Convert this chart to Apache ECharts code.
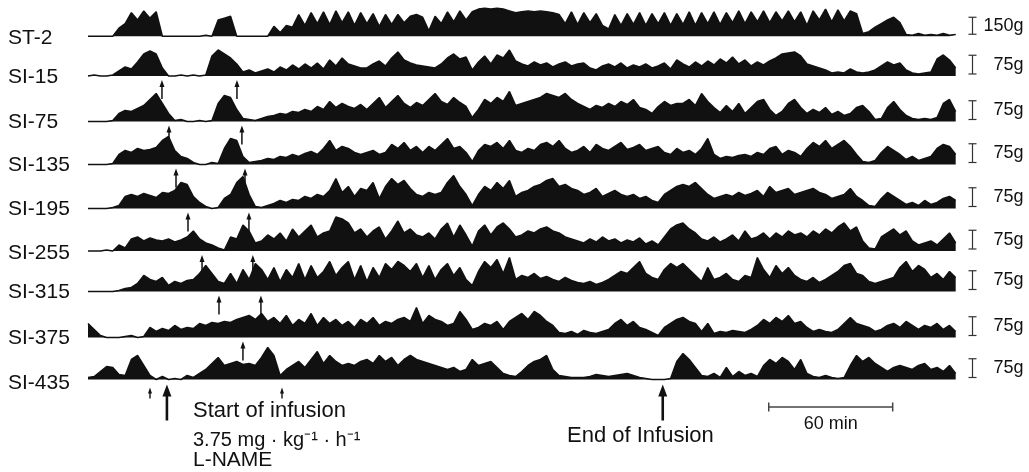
<!DOCTYPE html>
<html>
<head>
<meta charset="utf-8">
<script src="https://cdn.jsdelivr.net/npm/echarts@6.0.0/dist/echarts.min.js"></script>
<style>
  html, body { margin: 0; background: #fff; }
  #chart { width: 1029px; height: 472px; }
</style>
</head>
<body>
<div id="chart"></div>
<script>
// one sample every 3 min, 0 .. 420 min
const STEP = 3;

const traceNames = ['ST-2', 'SI-15', 'SI-75', 'SI-135', 'SI-195', 'SI-255', 'SI-315', 'SI-375', 'SI-435'];

// contractile force (g)
const st2 = [0,0,0,0,0,72,112,208,144,224,160,216,0,0,0,0,0,0,0,8,0,144,160,176,0,0,0,0,0,0,
  88,32,96,80,192,96,208,112,216,104,224,120,216,96,208,112,200,88,192,104,192,120,176,192,168,48,176,112,216,128,224,144,216,
  240,248,240,248,240,224,208,216,224,216,224,216,208,
  192,112,216,104,208,120,200,96,64,
  192,96,200,104,208,96,200,112,208,96,200,104,216,96,208,112,216,104,208,120,224,112,216,128,224,120,216,136,224,128,216,96,224,144,240,128,232,136,224,200,
  24,40,80,112,144,168,120,16,8,24,8,16,8,24,8,16];
const si15 = [0,4,0,0,4,20,36,28,56,88,100,88,32,0,0,4,0,4,0,4,80,104,88,72,48,16,24,12,20,28,16,36,24,44,28,48,32,52,28,64,40,72,
  48,40,32,32,48,60,40,72,96,64,52,44,40,36,32,48,72,88,68,76,24,56,80,48,84,72,104,60,48,40,56,44,52,36,48,56,40,48,52,32,24,40,48,36,52,32,44,36,48,32,40,52,28,64,
  48,36,56,40,60,44,68,52,76,48,64,40,56,44,60,72,88,92,96,80,48,40,32,24,12,16,12,28,16,12,16,24,40,56,44,52,24,12,8,12,16,68,84,64,32];
const si75 = [0,0,0,0,4,32,44,40,52,64,88,112,72,32,4,8,0,0,4,0,4,72,104,96,48,12,8,4,12,20,24,32,28,40,36,48,40,60,48,80,56,72,
  60,52,68,48,72,96,56,80,104,72,56,76,64,88,112,80,68,96,76,60,16,48,88,72,96,80,120,64,72,80,88,96,112,104,96,112,88,72,60,48,64,56,72,60,80,68,88,56,48,32,60,80,64,72,
  72,88,64,112,80,56,36,64,40,72,32,56,80,88,48,24,40,72,88,56,32,48,36,56,28,40,24,32,56,64,40,8,12,56,80,48,24,12,8,12,8,16,72,88,40];
const si135 = [0,0,0,0,4,40,56,48,64,56,60,68,96,112,56,32,24,8,0,0,8,4,64,104,96,32,8,12,16,24,20,32,28,40,32,44,52,40,64,96,56,72,
  64,48,40,48,56,40,48,80,64,88,56,72,48,72,56,80,104,64,72,48,12,56,80,72,88,64,96,56,48,64,56,80,88,72,96,64,48,56,72,48,80,64,56,72,88,60,68,80,56,64,72,48,40,64,
  48,56,40,64,104,40,24,32,28,36,40,32,48,40,64,72,40,56,48,32,64,88,72,96,64,80,96,72,40,12,8,16,48,72,56,40,20,32,16,24,32,64,80,72,40];
const si195 = [0,0,0,0,4,12,48,56,48,60,52,44,64,60,72,104,96,48,24,8,0,4,40,56,104,128,56,8,4,12,20,32,24,36,32,48,40,56,48,72,120,64,
  88,48,80,72,104,40,88,120,96,112,80,56,48,64,56,64,104,132,88,56,12,56,88,72,104,80,112,48,64,72,88,96,112,120,88,96,80,72,56,64,80,48,60,72,56,48,56,40,48,32,24,56,72,88,
  96,88,104,80,56,40,48,56,48,64,52,60,72,48,88,64,72,80,56,64,72,80,64,56,40,48,56,80,48,32,12,8,40,64,48,32,16,24,12,32,16,24,40,48,32];
const si255 = [0,0,0,4,0,24,12,48,56,40,52,44,40,48,36,44,56,80,48,32,24,12,4,56,48,104,80,32,40,64,48,72,40,88,56,80,104,56,72,80,136,128,
  112,72,88,56,80,96,48,80,120,72,88,64,56,72,48,88,112,56,104,64,20,80,104,64,96,112,88,56,64,80,72,88,96,80,72,56,48,40,32,48,36,56,40,48,32,44,36,52,28,40,24,56,88,104,
  112,88,72,48,40,56,36,48,64,40,80,48,56,72,48,72,56,80,64,72,56,80,64,88,72,96,112,80,96,40,12,8,56,72,88,64,80,40,24,32,40,24,48,72,32];
const si315 = [0,0,0,0,0,4,12,16,32,64,48,40,56,24,40,32,44,48,72,104,72,40,32,72,32,88,48,112,88,48,96,40,88,56,112,48,104,56,80,120,64,96,
  120,48,104,40,96,56,112,88,120,104,80,112,56,104,48,88,112,64,96,48,24,80,120,96,128,72,136,48,64,56,72,52,60,48,40,56,44,36,32,40,28,36,48,64,80,72,96,120,72,56,48,88,112,96,
  112,88,64,40,96,48,56,72,48,40,64,56,136,88,56,104,72,96,64,48,40,56,36,48,64,80,104,112,72,64,40,32,40,48,56,96,120,80,104,88,56,72,48,80,56];
const si375 = [56,32,8,0,0,0,4,8,0,4,40,24,36,28,48,32,40,36,56,48,60,56,64,60,72,80,88,72,96,64,80,56,88,48,72,56,96,48,80,56,72,48,
  64,40,72,56,80,48,64,56,72,80,64,120,56,88,72,64,48,56,104,72,32,40,56,48,64,32,64,80,96,72,104,88,64,48,20,16,24,12,28,20,16,24,32,56,72,48,64,40,32,20,8,40,56,72,
  80,64,56,24,56,16,24,20,28,24,20,32,48,72,56,80,64,88,56,64,40,24,32,24,20,32,56,80,56,48,40,24,32,48,56,40,64,48,32,48,40,56,32,48,24];
const si435 = [8,12,32,52,48,20,16,80,96,56,16,0,12,0,4,0,16,8,24,40,64,88,56,64,72,60,64,56,88,128,96,16,40,56,72,48,80,112,64,96,72,56,
  64,56,72,80,64,96,72,88,56,80,96,80,72,64,56,48,40,48,32,40,80,56,64,72,48,24,16,12,32,56,72,80,96,40,16,12,8,8,8,12,20,16,12,16,20,24,16,8,4,0,0,0,4,72,
  104,80,48,16,12,24,8,48,12,32,16,24,12,56,80,64,88,72,40,80,24,12,8,16,8,4,8,56,96,72,88,64,48,32,48,56,48,40,56,64,40,48,32,56,24];

const traces = [st2, si15, si75, si135, si195, si255, si315, si375, si435];
const scaleBarGrams = [150, 75, 75, 75, 75, 75, 75, 75, 75];

// small arrows under each trace (min)
const arrowTimes = [[], [35.8, 72.1], [39.2, 74.5], [42.6, 76.0], [48.4, 77.9], [55.2, 79.8], [63.4, 83.7], [75.0], [30.0, 93.9]];
// start / end of L-NAME infusion (min)
const infusionTimes = [38.2, 278.2];
const timeBar = [329.5, 60];      // start, length (min)
const scaleBarTime = 428;

// layout
const baselines = [35.5, 76, 121.5, 164.5, 208.5, 251, 291.5, 337.5, 379.5];
const labelY = [38, 77, 122, 165, 209, 253, 292, 338, 383];
const gPerPx = [8, 4, 4, 4, 4, 4, 4, 4, 4];
const ink = '#111';
const FONT = '"Liberation Sans", Arial, Helvetica, sans-serif';

const chart = echarts.init(document.getElementById('chart'));

function arrowItem(top, bottom, headW, headH, width) {
  return function (params, api) {
    const p = api.coord([api.value(0), 0]);
    const x = p[0], y = p[1];
    return {
      type: 'group',
      children: [
        { type: 'line', shape: { x1: x, y1: y + top + headH - 1, x2: x, y2: y + bottom },
          style: { stroke: ink, lineWidth: width } },
        { type: 'polygon', shape: { points: [[x, y + top], [x - headW / 2, y + top + headH], [x + headW / 2, y + top + headH]] },
          style: { fill: ink } }
      ]
    };
  };
}

function scaleBarItem(params, api) {
  const t = api.value(0), g = api.value(1);
  const p0 = api.coord([t, 0]), p1 = api.coord([t, g]);
  const x = Math.round(p0[0]) + 0.5, yb = p0[1] - 2, yt = p1[1] - 2;
  const st = { stroke: '#333', lineWidth: 1.2 };
  return {
    type: 'group',
    children: [
      { type: 'line', shape: { x1: x, y1: yb, x2: x, y2: yt }, style: st },
      { type: 'line', shape: { x1: x - 4, y1: yb, x2: x + 4, y2: yb }, style: st },
      { type: 'line', shape: { x1: x - 4, y1: yt, x2: x + 4, y2: yt }, style: st },
      { type: 'text', style: { text: g + 'g', x: x + 51, y: (yb + yt) / 2, align: 'right', verticalAlign: 'middle',
          textAlign: 'right', textVerticalAlign: 'middle', font: '18px ' + FONT, fill: ink } }
    ]
  };
}

function timeBarItem(params, api) {
  const t = api.value(0), len = api.value(1);
  const a = api.coord([t, 0]), b = api.coord([t + len, 0]);
  const y = a[1] + 27.5;
  const st = { stroke: '#444', lineWidth: 1.5 };
  return {
    type: 'group',
    children: [
      { type: 'line', shape: { x1: a[0], y1: y, x2: b[0], y2: y }, style: st },
      { type: 'line', shape: { x1: a[0], y1: y - 4.5, x2: a[0], y2: y + 4.5 }, style: st },
      { type: 'line', shape: { x1: b[0], y1: y - 4.5, x2: b[0], y2: y + 4.5 }, style: st },
      { type: 'text', style: { text: len + ' min', x: (a[0] + b[0]) / 2, y: y + 17, align: 'center', verticalAlign: 'middle',
          textAlign: 'center', textVerticalAlign: 'middle', font: '18px ' + FONT, fill: ink } }
    ]
  };
}

const grids = [], xAxes = [], yAxes = [], series = [];
traces.forEach(function (vals, k) {
  grids.push({ left: 88, right: 1, top: baselines[k] - 40, height: 48 });
  xAxes.push({ type: 'value', gridIndex: k, min: 0, max: 455, show: false });
  yAxes.push({ type: 'value', gridIndex: k, min: -8 * gPerPx[k], max: 40 * gPerPx[k], show: false });
  series.push({
    name: traceNames[k], type: 'line', xAxisIndex: k, yAxisIndex: k,
    data: vals.map(function (v, i) { return [i * STEP, v]; }),
    symbol: 'none', clip: false, silent: true,
    lineStyle: { color: ink, width: 1.5 },
    areaStyle: { color: ink, opacity: 1 }
  });
  series.push({
    type: 'custom', xAxisIndex: k, yAxisIndex: k, silent: true,
    data: [[scaleBarTime, scaleBarGrams[k]]], renderItem: scaleBarItem
  });
  if (arrowTimes[k].length) {
    const last = k === traces.length - 1;
    series.push({
      type: 'custom', xAxisIndex: k, yAxisIndex: k, silent: true,
      data: arrowTimes[k].map(function (t) { return [t, 0]; }),
      renderItem: last ? arrowItem(8, 19, 4, 6, 1.4) : arrowItem(4, 23, 5, 7, 1.5)
    });
  }
});
const lastK = traces.length - 1;
series.push({
  type: 'custom', xAxisIndex: lastK, yAxisIndex: lastK, silent: true,
  data: infusionTimes.map(function (t) { return [t, 0]; }),
  renderItem: arrowItem(5, 41, 9, 12, 2.6)
});
series.push({
  type: 'custom', xAxisIndex: lastK, yAxisIndex: lastK, silent: true,
  data: [timeBar], renderItem: timeBarItem
});

function txt(text, x, y, size) {
  return { type: 'text', x: x, y: y, silent: true,
    style: { text: text, font: size + 'px ' + FONT, fill: ink, align: 'left', verticalAlign: 'middle',
      textAlign: 'left', textVerticalAlign: 'middle' } };
}
const graphics = traceNames.map(function (n, k) { return txt(n, 8, labelY[k], 21); });
graphics.push(txt('Start of infusion', 193, 410.5, 22));
graphics.push(txt('3.75 mg \u00b7 kg\u207b\u00b9 \u00b7 h\u207b\u00b9', 193, 440, 20));
graphics.push(txt('L-NAME', 193, 460, 21));
graphics.push(txt('End of Infusion', 567, 436, 22));

chart.setOption({
  animation: false,
  backgroundColor: '#fff',
  grid: grids,
  xAxis: xAxes,
  yAxis: yAxes,
  series: series,
  graphic: graphics
});
</script>
</body>
</html>
